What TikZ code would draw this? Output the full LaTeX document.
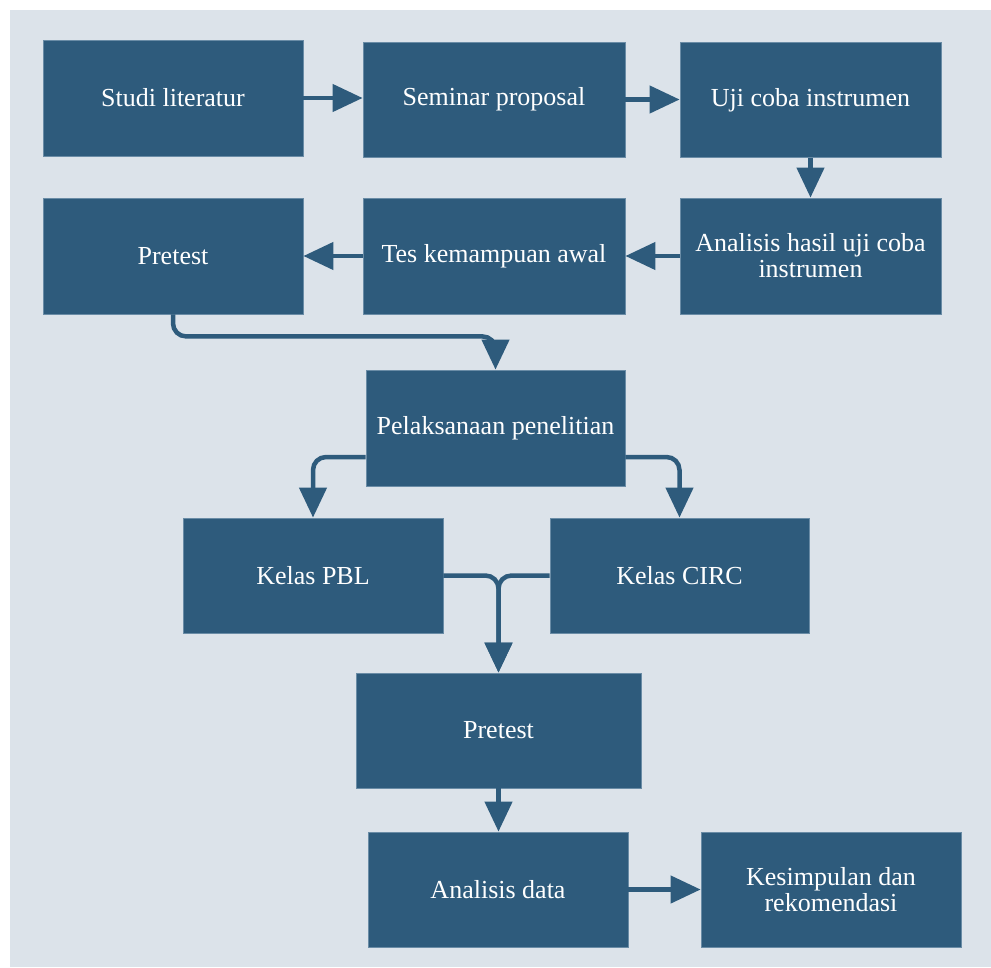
\documentclass[tikz,border=0pt]{standalone}
\usepackage{fontspec}
\setmainfont{Liberation Serif}
\usetikzlibrary{arrows.meta,calc}
\definecolor{boxblue}{HTML}{2E5B7C}
\definecolor{boxedge}{HTML}{6A8CA6}
\definecolor{panel}{HTML}{DCE3EA}
\begin{document}
\begin{tikzpicture}[x=1pt,y=-1pt,
  stepbox/.style={draw=boxedge,line width=0.8pt,fill=boxblue,text=white,
    minimum width=260pt,minimum height=115pt,inner sep=4pt,align=center,
    font=\fontsize{26}{30}\selectfont},
  flow/.style={draw=boxblue,line width=4.5pt,
    -{Triangle[length=30pt,width=27pt]}},
  elbow/.style={flow,rounded corners=13pt}]
\useasboundingbox (0,0) rectangle (991,967);
\fill[white] (0,0) rectangle (991,967);
\fill[panel] (10,10) rectangle (991,967);

\node[stepbox,minimum height=116pt] (studi) at (173,98) {Studi literatur};
\node[stepbox,minimum width=262pt] (seminar) at (494,99.5) {Seminar proposal};
\node[stepbox,minimum width=261pt] (uji) at (810.5,100) {Uji coba instrumen};
\node[stepbox,minimum height=116pt] (pre1) at (173,256) {Pretest};
\node[stepbox,minimum width=262pt,minimum height=116pt] (tes) at (494,256) {Tes kemampuan awal};
\node[stepbox,minimum width=261pt,minimum height=116pt] (anhasil) at (810.5,256) {Analisis hasil uji coba\\[-4pt]instrumen};
\node[stepbox,minimum width=259pt,minimum height=116pt] (pel) at (495.5,428) {Pelaksanaan penelitian};
\node[stepbox] (pbl) at (313,575.5) {Kelas PBL};
\node[stepbox,minimum width=259pt] (circ) at (679.5,575.5) {Kelas CIRC};
\node[stepbox,minimum width=285pt] (pre2) at (498.5,730.5) {Pretest};
\node[stepbox] (andata) at (498,889.5) {Analisis data};
\node[stepbox] (kes) at (831,889.5) {Kesimpulan dan\\[-4pt]rekomendasi};

\draw[flow] (studi.east) -- (studi.east -| seminar.west);
\draw[flow] (seminar.east) -- (seminar.east -| uji.west);
\draw[flow] (uji.south) -- (anhasil.north);
\draw[flow] (anhasil.west) -- (anhasil.west -| tes.east);
\draw[flow] (tes.west) -- (tes.west -| pre1.east);
\draw[elbow] (pre1.south) -- ++(0,22) -| (pel.north);
\draw[elbow] ($(pel.west)+(0,29)$) -| (pbl.north);
\draw[elbow] ($(pel.east)+(0,29)$) -| (circ.north);
\draw[elbow] (pbl.east) -| (pre2.north);
\draw[elbow] (circ.west) -| (pre2.north);
\draw[flow] (pre2.south) -- (pre2.south |- andata.north);
\draw[flow] (andata.east) -- (kes.west);
\end{tikzpicture}
\end{document}
